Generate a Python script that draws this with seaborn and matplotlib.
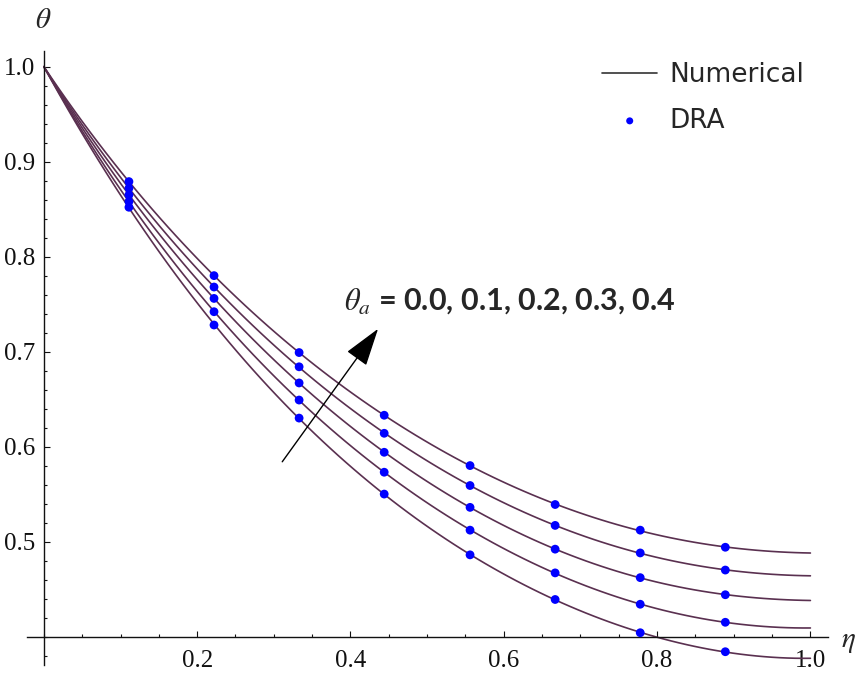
import numpy as np
import pandas as pd
import matplotlib
matplotlib.use("Agg")
import matplotlib.pyplot as plt
from matplotlib.lines import Line2D
from matplotlib.ticker import FixedLocator, MultipleLocator
import seaborn as sns

# Grid of the dimensionless coordinate eta
eta = [0.0, 0.111, 0.222, 0.333, 0.444, 0.556, 0.667, 0.778, 0.889, 1.0]
theta_a = [0.0, 0.1, 0.2, 0.3, 0.4]

# Numerical temperature profiles theta(eta), one per theta_a
num_00 = [1.0, 0.852, 0.728, 0.630, 0.550, 0.486, 0.439, 0.404, 0.384, 0.377]
num_01 = [1.0, 0.858, 0.742, 0.649, 0.573, 0.512, 0.467, 0.434, 0.415, 0.409]
num_02 = [1.0, 0.865, 0.756, 0.667, 0.594, 0.536, 0.492, 0.462, 0.444, 0.438]
num_03 = [1.0, 0.872, 0.768, 0.684, 0.614, 0.559, 0.517, 0.488, 0.470, 0.464]
num_04 = [1.0, 0.879, 0.780, 0.699, 0.633, 0.580, 0.539, 0.512, 0.494, 0.488]
numerical = [num_00, num_01, num_02, num_03, num_04]

# DRA solution at interior nodes
eta_dra = [0.111, 0.222, 0.333, 0.444, 0.556, 0.667, 0.778, 0.889]
dra_00 = [0.852, 0.728, 0.630, 0.550, 0.486, 0.439, 0.404, 0.384]
dra_01 = [0.858, 0.742, 0.649, 0.573, 0.512, 0.467, 0.434, 0.415]
dra_02 = [0.865, 0.756, 0.667, 0.594, 0.536, 0.492, 0.462, 0.444]
dra_03 = [0.872, 0.768, 0.684, 0.614, 0.559, 0.517, 0.488, 0.470]
dra_04 = [0.879, 0.780, 0.699, 0.633, 0.580, 0.539, 0.512, 0.494]
dra = [dra_00, dra_01, dra_02, dra_03, dra_04]

x_ticks = [0.2, 0.4, 0.6, 0.8, 1.0]
y_ticks = [0.5, 0.6, 0.7, 0.8, 0.9, 1.0]

sns.set_style("white")
plt.rcParams["font.family"] = ["Liberation Serif", "DejaVu Serif"]
plt.rcParams["mathtext.fontset"] = "stix"

fig = plt.figure(figsize=(8.62, 6.82), dpi=100)
ax = fig.add_axes([0.0313, 0.0249, 0.9293, 0.8996])

line_color = "#5a3050"
for i, prof in enumerate(numerical):
    sns.regplot(x=eta, y=prof, order=5, ci=None, scatter=False, truncate=True,
                ax=ax, color=line_color, line_kws=dict(lw=1.2),
                label="Numerical" if i == 0 else "_nolegend_")

dra_df = pd.DataFrame({
    "eta": eta_dra * len(dra),
    "theta": [v for series in dra for v in series],
})
sns.scatterplot(data=dra_df, x="eta", y="theta", color="#0000ff", s=40,
                edgecolor="none", ax=ax, label="DRA", zorder=5)

ax.set_xlim(-0.022, 1.023)
ax.set_ylim(0.37, 1.016)
ax.set_xlabel("")
ax.set_ylabel("")

# Axes crossing at (0, 0.4)
ax.spines["left"].set_position(("data", 0.0))
ax.spines["bottom"].set_position(("data", 0.4))
ax.spines["top"].set_visible(False)
ax.spines["right"].set_visible(False)
for s in ("left", "bottom"):
    ax.spines[s].set_color("#111111")
    ax.spines[s].set_linewidth(1.0)

ax.xaxis.set_major_locator(FixedLocator(x_ticks))
ax.yaxis.set_major_locator(FixedLocator(y_ticks))
ax.xaxis.set_minor_locator(MultipleLocator(0.05))
ax.yaxis.set_minor_locator(MultipleLocator(0.02))
ax.set_xticklabels([f"{v:.1f}" for v in x_ticks])
ax.set_yticklabels([f"{v:.1f}" for v in y_ticks])
ax.tick_params(which="both", direction="in", color="#111111", width=0.8,
               labelsize=18, labelcolor="#111111", bottom=True, left=True)
ax.tick_params(which="major", length=4)
ax.tick_params(which="minor", length=2.5)
ax.tick_params(axis="x", pad=10)
ax.tick_params(axis="y", pad=6)

fig.text(43 / 862, 1 - 21 / 682, r"$\theta$", fontsize=21, ha="center", va="center")
fig.text(848 / 862, 1 - 642 / 682, r"$\eta$", fontsize=21, ha="center", va="center")

# Direction of increasing theta_a
ax.annotate("", xy=(0.436, 0.724), xytext=(0.311, 0.584),
            arrowprops=dict(arrowstyle="-|>,head_length=1.2,head_width=0.38",
                            mutation_scale=20, color="black", lw=1.0,
                            shrinkA=0, shrinkB=0))
ax.text(0.392, 0.744, r"$\theta_a$" + " = 0.0, 0.1, 0.2, 0.3, 0.4",
        fontsize=22, family=["Lato", "DejaVu Sans"], fontweight="bold",
        ha="left", va="baseline")

leg = ax.legend(loc="upper left", bbox_to_anchor=(602 / 862, 1 - 62 / 682),
                bbox_transform=fig.transFigure, frameon=False, borderaxespad=0,
                borderpad=0, handlelength=2.1, handletextpad=0.45,
                labelspacing=0.75, prop=dict(family="DejaVu Sans", size=19),
                markerscale=0.8)
for h in leg.legend_handles:
    if isinstance(h, Line2D):
        h.set_color("#333333")

fig.savefig("out.png", dpi=100)
